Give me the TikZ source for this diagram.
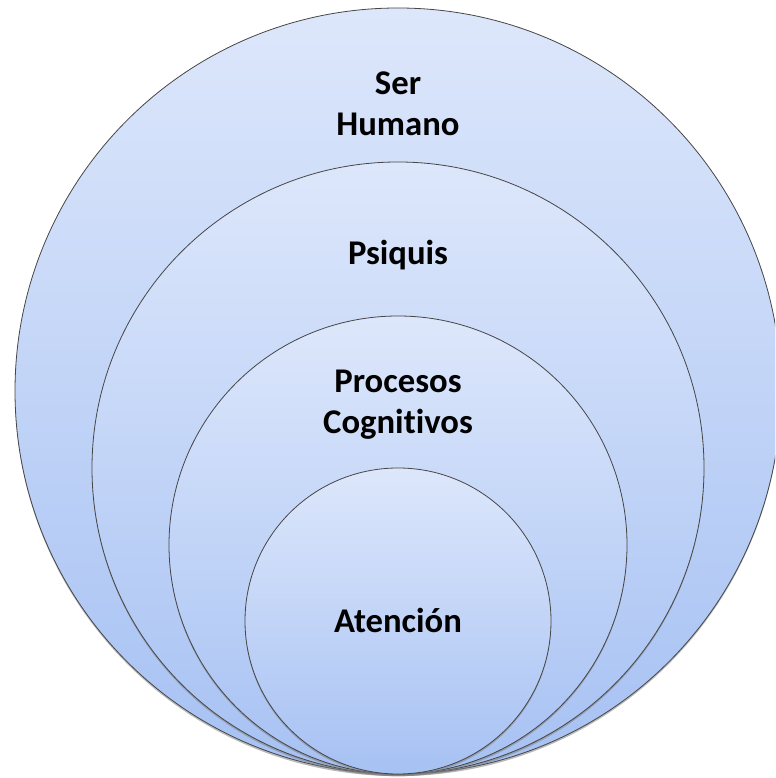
\documentclass[tikz,border=0pt]{standalone}
\usepackage{fontspec}
\setmainfont{Carlito}[Ligatures=NoCommon]
\usetikzlibrary{shadows}
\definecolor{ringtop}{RGB}{221,231,251}
\definecolor{ringbot}{RGB}{166,193,243}
\definecolor{ringline}{RGB}{70,70,70}
\tikzset{
  ring/.style={circle, draw=ringline, line width=0.6pt, inner sep=0pt,
    top color=ringtop, bottom color=ringbot,
    drop shadow={shadow xshift=0pt, shadow yshift=-1.6pt, opacity=0.55}},
  lbl/.style={font=\fontsize{26pt}{30.75pt}\selectfont\bfseries, align=center, inner sep=0pt}
}
\begin{document}
\begin{tikzpicture}[x=0.75pt, y=0.75pt]
    \useasboundingbox (0,0) rectangle (775,778);
    \clip (0,0) rectangle (775,778);
    \node[ring, minimum size=574.5pt] (ser) at (398, 387) {};
    \node[ring, minimum size=459pt] (psi) at (398, 310) {};
    \node[ring, minimum size=343.5pt] (pro) at (398, 233) {};
    \node[ring, minimum size=229.5pt] (ate) at (398, 157) {};
    \node[lbl] (tser) at (398, 674) {Ser\\Humano};
    \node[lbl, anchor=base] (tpsi) at (398, 513) {Psiquis};
    \node[lbl] (tpro) at (398, 373) {Procesos\\Cognitivos};
    \node[lbl, anchor=base] (tate) at (398, 145) {Atención};
\end{tikzpicture}
\end{document}
